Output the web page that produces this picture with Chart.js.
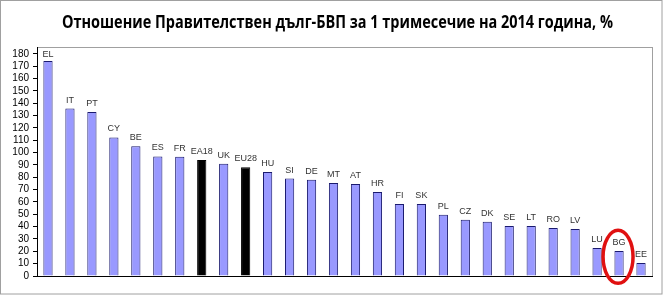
<!DOCTYPE html>
<html>
<head>
<meta charset="utf-8">
<script src="https://cdn.jsdelivr.net/npm/chart.js@4.4.1/dist/chart.umd.min.js"></script>
<style>
html,body{margin:0;padding:0;background:#fff;}
#wrap{width:663px;height:295px;position:relative;}
</style>
</head>
<body>
<div id="wrap"><canvas id="c" width="663" height="295"></canvas></div>
<script>
const chartTitle = "Отношение Правителствен дълг-БВП за 1 тримесечие на 2014 година, %";
const categories = ["EL","IT","PT","CY","BE","ES","FR","EA18","UK","EU28","HU","SI","DE","MT","AT","HR","FI","SK","PL","CZ","DK","SE","LT","RO","LV","LU","BG","EE"];
const debtRatio = [174.1,135.6,132.9,112.2,105.1,96.8,96.6,93.9,91.0,88.0,84.3,78.9,78.0,75.4,74.5,68.0,58.3,58.3,49.7,45.6,44.0,40.5,40.5,38.9,38.0,22.6,20.2,10.5];
const highlighted = ["EA18","EU28"];
const circled = "BG";
const yTicks = [0,10,20,30,40,50,60,70,80,90,100,110,120,130,140,150,160,170,180];

const barColors = categories.map(c => highlighted.includes(c) ? "#000000" : "#9999FF");
const borderColors = categories.map(c => highlighted.includes(c) ? "#000000" : "#1A1A6E");

const decor = {
  id: "decor",
  beforeDraw(chart) {
    const ctx = chart.ctx, a = chart.chartArea;
    ctx.save();
    ctx.fillStyle = "#fff";
    ctx.fillRect(0, 0, chart.width, chart.height);
    ctx.strokeStyle = "#A0A0A0";
    ctx.lineWidth = 1;
    ctx.strokeRect(0.5, 0.5, chart.width - 1.5, chart.height - 1.5);
    ctx.strokeRect(Math.round(a.left) + 0.5, Math.round(a.top) + 0.5, Math.round(a.right - a.left), Math.round(a.bottom - a.top));
    ctx.restore();
  },
  afterDraw(chart) {
    const ctx = chart.ctx, a = chart.chartArea;
    const meta = chart.getDatasetMeta(0);
    ctx.save();
    ctx.font = "bold 17px 'Open Sans', 'Liberation Sans', Arial, sans-serif";
    ctx.fillStyle = "#000";
    ctx.textBaseline = "middle";
    ctx.textAlign = "left";
    const w = ctx.measureText(chartTitle).width;
    const target = 551;
    ctx.translate(62, 23);
    ctx.scale(target / w, 1);
    ctx.fillText(chartTitle, 0, 0);
    ctx.restore();
    ctx.save();
    ctx.font = "9px 'Liberation Sans', Arial, sans-serif";
    ctx.fillStyle = "#333";
    ctx.textAlign = "center";
    ctx.textBaseline = "bottom";
    meta.data.forEach((bar, i) => {
      const y = Math.max(bar.y - 4, a.top + 12);
      ctx.fillText(categories[i], bar.x, y);
    });
    const idx = categories.indexOf(circled);
    const xs = chart.scales.x, ys = chart.scales.y;
    const cx = xs.getPixelForValue(idx) - 1;
    const cy = ys.getPixelForValue(15.5);
    ctx.strokeStyle = "#E01010";
    ctx.lineWidth = 3.5;
    ctx.beginPath();
    ctx.ellipse(cx, cy, 15, 26.5, 0, 0, Math.PI * 2);
    ctx.stroke();
    ctx.restore();
  }
};

new Chart(document.getElementById("c"), {
  type: "bar",
  data: {
    labels: categories,
    datasets: [{
      data: debtRatio,
      backgroundColor: barColors,
      borderColor: borderColors,
      borderWidth: 1,
      borderSkipped: "start",
      barPercentage: 0.42,
      categoryPercentage: 1.0
    }]
  },
  options: {
    responsive: false,
    animation: false,
    devicePixelRatio: 1,
    layout: { padding: { left: 0, right: 11, top: 47, bottom: 19 } },
    plugins: { legend: { display: false }, title: { display: false }, tooltip: { enabled: false } },
    scales: {
      x: {
        offset: true,
        grid: { display: false, drawTicks: false },
        ticks: { display: false },
        border: { display: true, color: "#000", width: 1 },
        afterFit(s) { s.height = 0; }
      },
      y: {
        min: 0,
        max: 185.5,
        afterBuildTicks(s) { s.ticks = yTicks.map(v => ({ value: v })); },
        ticks: {
          autoSkip: false,
          color: "#000",
          font: { family: "'Liberation Sans', Arial, sans-serif", size: 10 },
          padding: 4
        },
        grid: { drawOnChartArea: false, drawTicks: true, tickLength: 4, color: "#000" },
        border: { display: true, color: "#000", width: 1 },
        afterFit(s) { s.width = 37; }
      }
    }
  },
  plugins: [decor]
});
</script>
</body>
</html>
